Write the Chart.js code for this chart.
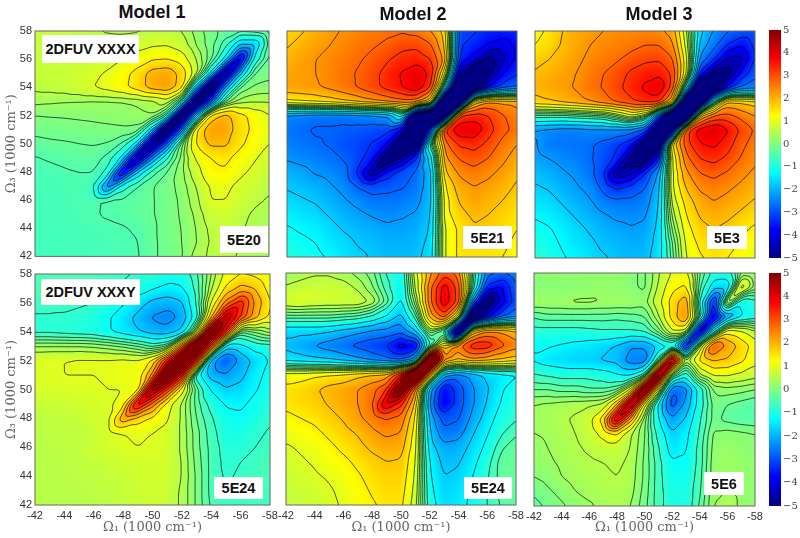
<!DOCTYPE html>
<html lang="en">
<head>
<meta charset="UTF-8" />
<title>2DFUV models</title>
<script src="https://cdn.jsdelivr.net/npm/chart.js"></script>
<style>
    body { margin: 0; background: #fff; width: 800px; height: 538px; overflow: hidden; position: relative; }
    canvas { position: absolute; }
    .title { position: absolute; font: bold 18px "Liberation Sans", sans-serif; color: #111; transform: translateX(-50%); white-space: nowrap; }
    .tag { position: absolute; background: #fff; font: bold 14.5px "Liberation Sans", sans-serif; color: #111; display: flex; align-items: center; justify-content: center; }
</style>
</head>
<body>
<script>
// value grids: rows go from 58 down to 42, columns from -42 to -58
const gridAxis = [42,43,44,45,46,47,48,49,50,51,52,53,54,55,56,57,58];

const model1Xxxx = [
[.7,.7,.68,.62,.58,.52,.5,.52,.6,.62,.55,.2,-.1,-.3,-.35,-.3,-.1],
[.7,.7,.7,.7,.7,.7,.72,.8,.9,.93,.75,.3,-.1,-.6,-1.8,-1.8,-.3],
[.7,.7,.7,.72,.75,.8,.95,1.15,1.35,1.4,1.2,.55,-.1,-1.4,-4.2,-1.1,-.1],
[.7,.7,.72,.78,.88,1,1.25,1.55,2.05,2.15,1.7,.7,-1.3,-5,-2,-.2,-.05],
[.62,.65,.7,.8,.95,1.1,1.3,1.6,2.05,2.2,1.6,-1.6,-5.6,-2.2,-.2,.1,.15],
[.38,.35,.32,.3,.28,.28,.3,.35,.45,.75,-.5,-5.6,-3,-.2,.4,.5,.5],
[.05,.07,.08,.1,.12,.15,.18,.22,.28,-.6,-5.6,-1.8,1.5,2,1.55,1.25,.98],
[-.13,-.1,-.08,-.06,-.04,-.02,0,-.05,-1.6,-5.6,-2.8,1.3,2.2,2.15,1.6,1.3,1.05],
[-.28,-.25,-.23,-.2,-.18,-.22,-.5,-1.5,-5.2,-2.8,-.1,1.4,1.95,1.95,1.5,1.2,.95],
[-.47,-.42,-.38,-.33,-.32,-.55,-1.4,-4.8,-2.4,-.8,.1,1,1.4,1.5,1.25,1,.75],
[-.55,-.52,-.48,-.45,-.45,-.9,-4,-1.8,-.6,-.2,.2,.75,1.3,1.35,1.05,.85,.7],
[-.58,-.55,-.52,-.5,-.7,-2.6,-1,-.45,-.22,-.08,.15,.55,1,1.05,.85,.72,.6],
[-.6,-.58,-.55,-.5,-.47,-.43,-.4,-.33,-.22,-.1,.1,.45,.95,.95,.78,.62,.52],
[-.6,-.58,-.55,-.52,-.47,-.42,-.38,-.32,-.22,-.1,.08,.35,.75,.8,.65,.5,.42],
[-.6,-.6,-.58,-.55,-.52,-.5,-.47,-.42,-.25,-.1,.05,.3,.62,.7,.6,.45,.38],
[-.6,-.6,-.6,-.58,-.55,-.52,-.5,-.46,-.25,-.12,.04,.28,.58,.65,.57,.42,.35],
[-.6,-.6,-.6,-.6,-.58,-.55,-.52,-.48,-.25,-.12,.02,.42,.6,.62,.52,.42,.35]
];

const model2Xxxx = [
[1.6,1.8,2,2.2,2.35,2.45,2.55,2.65,2.7,2.6,2.3,1.6,-3,-3.2,-3.4,-3.5,-3.4],
[1.8,2,2.15,2.3,2.45,2.6,2.7,2.85,3.05,3.1,2.8,1.8,-3.2,-3.4,-3.8,-4,-3.6],
[2,2.15,2.3,2.4,2.55,2.7,2.9,3.15,3.4,3.45,3.2,2.1,-3.4,-4,-5,-4.4,-3.6],
[2.1,2.2,2.3,2.45,2.65,2.8,3.05,3.4,3.7,4,3.5,1,-4.5,-6,-5,-3.8,-3.3],
[2.15,2.2,2.25,2.4,2.6,2.8,3.05,3.35,3.65,4,3.2,-1,-7,-6,-3.8,-3,-2.7],
[1.3,1.4,1.5,1.6,1.8,2,2.2,2.4,2.6,2.5,1.5,-7,-6,1.5,2.3,2.2,2.1],
[-2.4,-2.5,-2.6,-2.6,-2.6,-2.5,-2.4,-2.2,-1,-6,-7,-5,3.2,3.4,3.2,2.8,2.5],
[-2.6,-2.7,-2.8,-2.8,-2.85,-2.9,-3,-3.1,-3.8,-7,-3,3.3,4,4,3.4,2.9,2.6],
[-2.5,-2.6,-2.7,-2.8,-3,-3.1,-3.3,-3.8,-6,-5.5,-.5,2.6,3.3,3.4,3.1,2.6,2.3],
[-2.3,-2.4,-2.5,-2.6,-2.8,-3.1,-3.6,-5.5,-4.6,-3.3,-1.5,2.2,2.8,3,2.75,2.4,2.1],
[-2,-2.1,-2.3,-2.4,-2.6,-3.4,-4.8,-3.6,-3,-2.7,-1.9,1.8,2.4,2.6,2.4,2.2,1.9],
[-1.8,-1.9,-2,-2.2,-2.4,-2.8,-3,-2.9,-2.8,-2.6,-1.9,1.4,2.1,2.3,2.2,2,1.8],
[-1.6,-1.7,-1.8,-2,-2.2,-2.4,-2.6,-2.6,-2.55,-2.4,-1.9,1.2,1.9,2.15,2,1.85,1.65],
[-1.4,-1.5,-1.6,-1.8,-2,-2.15,-2.3,-2.4,-2.3,-2.2,-1.8,1.2,1.7,1.95,1.85,1.7,1.5],
[-1.2,-1.3,-1.4,-1.6,-1.8,-1.95,-2.05,-2.15,-2.15,-2.05,-1.7,1,1.5,1.8,1.75,1.6,1.4],
[-1.1,-1.15,-1.25,-1.45,-1.6,-1.8,-1.9,-2,-2,-1.95,-1.6,1,1.5,1.65,1.6,1.5,1.3],
[-.95,-1.05,-1.15,-1.3,-1.5,-1.65,-1.8,-1.9,-1.9,-1.85,-1.55,1,1.5,1.5,1.5,1.4,1.2]
];

const model3Xxxx = [
[1.2,1.5,1.85,2.1,2.2,2.3,2.35,2.4,2.45,2.4,2.1,.6,-1.6,-2.3,-2.7,-2.9,-2.9],
[1.4,1.6,1.9,2.1,2.3,2.4,2.5,2.6,2.75,2.75,2.4,.8,-1.9,-2.6,-3.3,-3.7,-3.1],
[1.7,1.85,2,2.2,2.4,2.55,2.7,2.95,3.1,3.15,2.8,1.1,-2.4,-3.2,-4.4,-4.4,-3.2],
[1.9,2,2.15,2.3,2.55,2.75,3,3.3,3.5,3.55,3.1,1,-3.4,-5,-5,-3.6,-2.9],
[2,2.1,2.2,2.35,2.6,2.8,3.1,3.4,3.75,4.05,3,-1,-6.5,-6,-3.6,-2.7,-2.5],
[1.7,1.8,1.95,2.1,2.3,2.55,2.85,3.1,3.3,3.3,1.8,-6.5,-6,-.5,1.9,1.8,1.6],
[-.6,-.6,-.6,-.5,-.4,-.3,.2,.8,.2,-3,-7,-6.5,1.8,2.8,2.9,2.6,2.3],
[-2.3,-2.4,-2.5,-2.5,-2.4,-2.4,-2.4,-2.5,-3,-6,-4.5,3,3.9,4.15,3.7,3.1,2.7],
[-2.2,-2.55,-2.6,-2.65,-2.7,-2.9,-3.2,-3.6,-5.5,-5,1.5,3,3.6,3.75,3.4,2.9,2.5],
[-2.1,-2.25,-2.4,-2.5,-2.7,-3,-3.4,-5,-5.5,-3.5,1,2.6,3.2,3.35,3.1,2.7,2.4],
[-1.9,-2,-2.2,-2.35,-2.6,-3.2,-4.8,-4.4,-3.3,-2.2,.9,2.2,2.75,2.9,2.7,2.45,2.2],
[-1.7,-1.8,-2,-2.2,-2.4,-2.9,-3.4,-3.1,-2.8,-1.9,.9,1.9,2.4,2.55,2.4,2.2,2],
[-1.5,-1.6,-1.8,-2,-2.2,-2.5,-2.65,-2.65,-2.5,-1.8,.7,1.6,2.1,2.3,2.15,2,1.8],
[-1.3,-1.4,-1.6,-1.8,-2,-2.2,-2.35,-2.4,-2.3,-1.7,.4,1.4,1.9,2.05,1.95,1.75,1.55],
[-1.1,-1.2,-1.4,-1.6,-1.8,-2,-2.1,-2.2,-2.15,-1.6,.1,1.2,1.7,1.85,1.7,1.5,1.3],
[-1,-1.1,-1.3,-1.5,-1.65,-1.85,-1.95,-2.05,-2,-1.55,-.2,1.05,1.5,1.65,1.55,1.35,1.15],
[-.8,-1,-1.2,-1.35,-1.55,-1.7,-1.85,-1.95,-1.9,-1.5,-.3,.95,1.35,1.5,1.4,1.2,1]
];

const model1Xxxy = [
[-.5,-.5,-.5,-.5,-.55,-.6,-.7,-.8,-.85,-.95,-1,-.5,.3,1.1,1.4,1.3,1],
[-.5,-.5,-.55,-.55,-.6,-.7,-.8,-1,-1.2,-1.4,-1.3,-.6,.5,1.5,2,1.8,1.2],
[-.6,-.6,-.65,-.7,-.75,-.9,-1.2,-1.5,-1.9,-2,-1.8,-.7,1,2.5,3.5,2.2,1.4],
[-.8,-.8,-.8,-.85,-.95,-1.2,-1.5,-1.9,-2.3,-2.5,-2.1,-.9,1.8,4.6,3.2,2,1.3],
[-.85,-.85,-.9,-.95,-1,-1.2,-1.45,-1.7,-1.95,-2,-1.6,.5,5.6,3.5,-.2,.1,.4],
[.3,.3,.3,.3,.25,.15,0,-.2,-.5,-.2,2.5,6.2,3,-1.5,-1.4,-1,-.9],
[.9,.95,.95,1,1,1,1.05,1,1.5,3.5,6.2,3.5,-2,-2.9,-2.1,-1.6,-1.2],
[.9,.9,.95,.95,.95,1,1.1,1.1,2.4,6,3.8,-1,-2,-2.2,-1.9,-1.4,-1.1],
[.85,.85,.9,.9,.9,.95,.95,1.2,5,3.2,1.2,-.3,-1.3,-1.7,-1.6,-1.3,-1],
[.72,.72,.75,.8,.85,.85,1.2,4,2.6,1.2,.5,-.3,-.9,-1.3,-1.35,-1.1,-.9],
[.6,.62,.65,.7,.8,.85,2.2,1.7,1.3,1,.5,-.2,-.7,-1.1,-1.15,-1,-.8],
[.58,.6,.62,.65,.72,.85,.95,1,.95,.85,.5,-.1,-.6,-1,-1,-.85,-.7],
[.55,.58,.6,.65,.75,.85,.9,.95,.9,.85,.5,-.1,-.55,-.9,-.9,-.75,-.6],
[.55,.55,.6,.62,.68,.72,.78,.82,.85,.8,.55,-.05,-.55,-.85,-.75,-.65,-.55],
[.55,.55,.58,.6,.62,.68,.72,.78,.82,.8,.55,0,-.55,-.8,-.7,-.6,-.5],
[.55,.55,.55,.58,.6,.62,.68,.75,.8,.75,.5,0,-.55,-.75,-.65,-.55,-.6],
[.55,.55,.55,.55,.58,.6,.65,.7,.78,.72,.5,0,-.5,-.7,-.65,-.6,-.7]
];

const model2Xxxy = [
[.3,.4,.5,.5,.4,.2,-.1,-.8,-1.2,.8,2.2,3,2.5,-.3,-2.6,-2.8,-2.4],
[.6,.7,.75,.75,.7,.5,.1,-.6,-1.3,.6,2.6,3.9,3,-.5,-3.4,-3.8,-2.8],
[.85,.95,.85,.8,.8,.8,.5,-.3,-1.4,.2,2.6,4,3,-2.5,-5.5,-4,-3],
[-.3,-.3,-.3,-.3,-.4,-.5,-.8,-1.3,-1.9,-.6,2,3,1,-6,-4,-2.9,-2.4],
[-1.6,-1.6,-1.6,-1.7,-1.9,-2.1,-2.3,-2.4,-2.6,-1.8,.3,-.5,-6,1.5,2.3,2.2,1.9],
[-1.9,-2.1,-2.3,-2.5,-2.7,-2.9,-3.1,-3.3,-4,-3.8,-.8,1.5,2.6,3.5,3.5,2.9,2.5],
[-1.4,-1.5,-1.6,-1.7,-1.9,-2.1,-2.4,-2.6,-2.8,-2,7,2.5,1.8,2.2,2,1.8,1.6],
[1.2,1.2,1.3,1.4,1.5,1.7,1.9,2,3.5,7,2.2,-2,-2.4,-2,-1.6,-1.4,-1.3],
[1.5,1.6,1.8,2,2.1,2.3,2.6,3.2,5.5,2.5,-2,-3.7,-3,-2.3,-1.8,-1.3,-1],
[1.5,1.6,1.7,1.9,2.1,2.3,2.7,4.2,3.4,1.8,-2.3,-3.9,-3,-2.3,-1.7,-1.2,-.9],
[1.3,1.4,1.5,1.7,1.9,2.2,2.5,2.8,2.6,1.4,-1.9,-3,-2.8,-2.1,-1.5,-1,-.8],
[1.1,1.2,1.3,1.5,1.7,1.9,2.2,2.4,2.3,1.2,-1.7,-2.6,-2.5,-1.8,-1.3,-.8,-.5],
[.9,1,1.1,1.3,1.5,1.7,1.95,2.1,2.05,1.1,-1.5,-2.1,-2,-1.6,-1.1,-.5,-.3],
[.8,.9,1,1.15,1.3,1.5,1.7,1.85,1.8,1,-1.3,-1.9,-1.8,-1.4,-.9,-.3,-.2],
[.75,.8,.9,1,1.15,1.35,1.55,1.7,1.7,.9,-1.2,-1.75,-1.65,-1.25,-.8,-.3,-.25],
[.7,.75,.8,.9,1.05,1.25,1.45,1.6,1.6,.8,-1.1,-1.65,-1.55,-1.15,-.75,-.35,-.3],
[.65,.7,.75,.85,1,1.15,1.35,1.5,1.5,.7,-1,-1.55,-1.45,-1.1,-.75,-.4,-.35]
];

const model3Xxxy = [
[.1,.15,.2,.2,.2,.2,.2,.1,0,.5,1,1.1,-.2,-.9,-1,.1,0],
[.1,.1,.1,.1,.15,.2,.2,.1,0,.6,1.3,1.5,-.4,-1.6,-1.6,1.3,.2],
[.3,.3,.3,.35,.35,.3,.3,.3,.2,.8,1.6,2.2,-.8,-3.5,.6,-1.1,-.9],
[-.4,-.3,-.3,-.3,-.3,-.3,-.35,-.3,-.2,.5,1.6,2.4,-.4,-4.2,-2.2,-1.3,-1],
[-.9,-.9,-.9,-.9,-.85,-.8,-.8,-.8,-.7,-.1,.9,.8,-4.5,-1,1.2,1,.6],
[-1.2,-1.2,-1.3,-1.4,-1.5,-1.6,-1.8,-2.2,-2.2,-1.6,-1.2,-4,.5,3,2.2,1.7,1.2],
[-1.3,-1.5,-1.6,-1.7,-1.7,-1.8,-1.9,-2.5,-2.5,-.5,5,.4,1.5,1.9,1.8,1.5,1.1],
[-.7,-.8,-.9,-.9,-.9,-1,-1.2,-1.3,-.6,5.5,0,-1,.5,1,1,.85,.7],
[-.2,-.2,-.3,-.3,-.4,-.4,-.2,1,5.5,1,-2.7,-2.4,-1,.1,.2,.15,.05],
[.3,.35,.4,.45,.5,.6,1.8,5,1.2,-1.3,-3,-2.1,-1,-.1,-.2,-.3,-.4],
[.35,.4,.5,.6,.8,1.6,4.4,2.2,.2,-1.2,-2.2,-1.7,-.8,-.1,-.3,-.4,-.45],
[.3,.35,.45,.55,.7,1.1,1.5,.6,.1,-.9,-1.7,-1.4,-.7,.1,.15,.1,.05],
[.2,.3,.4,.5,.6,.7,.7,.55,.05,-.7,-1.5,-1.3,-.6,.15,.25,.15,.1],
[.2,.25,.35,.45,.5,.55,.6,.5,0,-.6,-1.2,-1.2,-.6,.2,.3,.2,.15],
[.05,.15,.3,.4,.45,.5,.55,.45,0,-.6,-1.1,-1.1,-.55,.2,.3,.2,.15],
[-.15,0,.15,.3,.4,.45,.5,.4,-.05,-.6,-1,-1,-.5,.25,.3,.2,.15],
[-.3,-.15,0,.15,.25,.4,.45,.3,-.1,-.6,-1,-1,-.4,.3,.55,.2,.15]
];

const contourLevels = [-4.75,-4.25,-3.75,-3.25,-2.75,-2.25,-1.75,-1.25,-.75,-.45,-.2,.05,.3,.55,.95,1.4,1.85,2.3,2.75,3.2,3.65,4.1,4.55];
const axisTicks = [-42,-44,-46,-48,-50,-52,-54,-56,-58];
const colorbarTicks = [5,4,3,2,1,0,-1,-2,-3,-4,-5];
const axisLabelX = "Ω₁ (1000 cm⁻¹)";
const axisLabelY = "Ω₃ (1000 cm⁻¹)";
const modelTitles = ["Model 1", "Model 2", "Model 3"];

function jet(v) {
    const t = Math.min(1, Math.max(0, (v + 5) / 10));
    const ramp = c => Math.min(1, Math.max(0, 1.5 - Math.abs(4 * t - c)));
    return [ramp(3) * 255, ramp(2) * 255, ramp(1) * 255];
}

// finer table for painting only, the values themselves stay in the grids above
// cells are split along the ridge direction so the diagonal stays in one piece
const FINE = 8;
function fineTable(grid) {
    const n = grid.length, m = (n - 1) * FINE + 1;
    let table = Array.from({ length: m }, () => new Float32Array(m));
    for (let b = 0; b < m; b++) for (let a = 0; a < m; a++) {
        const i = Math.min(n - 2, Math.floor(a / FINE)), j = Math.min(n - 2, Math.floor(b / FINE));
        const fa = a / FINE - i, fb = b / FINE - j;
        const q00 = grid[j][i], q10 = grid[j][i + 1], q01 = grid[j + 1][i], q11 = grid[j + 1][i + 1];
        table[b][a] = fa + fb <= 1
            ? q00 + fa * (q10 - q00) + fb * (q01 - q00)
            : q11 + (1 - fa) * (q01 - q11) + (1 - fb) * (q10 - q11);
    }
    const kernel = [1, 2, 3, 2, 1];
    for (let pass = 0; pass < 2; pass++) {
        const next = Array.from({ length: m }, () => new Float32Array(m));
        for (let b = 0; b < m; b++) for (let a = 0; a < m; a++) {
            let s = 0;
            kernel.forEach((w, k) => {
                const p = pass === 0 ? table[b][Math.max(0, Math.min(m - 1, a + k - 2))] : table[Math.max(0, Math.min(m - 1, b + k - 2))][a];
                s += w * p;
            });
            next[b][a] = s / 9;
        }
        table = next;
    }
    return table;
}

function rebuildGrid(points) {
    const n = gridAxis.length;
    return Array.from({ length: n }, (_, j) => Array.from({ length: n }, (_, i) => points[j * n + i].v));
}

const fieldPlugin = {
    id: "field",
    beforeDatasetsDraw(chart) {
        const { ctx, chartArea: area, scales } = chart;
        const table = fineTable(rebuildGrid(chart.data.datasets[0].data));
        const m = table.length - 1;
        const x0 = gridAxis[0], top = gridAxis[gridAxis.length - 1];
        const w = Math.round(area.width), h = Math.round(area.height);
        const off = document.createElement("canvas");
        off.width = w; off.height = h;
        const octx = off.getContext("2d");
        const img = octx.createImageData(w, h);
        for (let py = 0; py < h; py++) {
            const b = Math.max(0, Math.min(m - 1e-4, (top - scales.y.getValueForPixel(area.top + py + .5)) * FINE));
            const b0 = Math.floor(b), fb = b - b0;
            for (let px = 0; px < w; px++) {
                const a = Math.max(0, Math.min(m - 1e-4, (-scales.x.getValueForPixel(area.left + px + .5) - x0) * FINE));
                const a0 = Math.floor(a), fa = a - a0;
                const v = (table[b0][a0] * (1 - fa) + table[b0][a0 + 1] * fa) * (1 - fb) + (table[b0 + 1][a0] * (1 - fa) + table[b0 + 1][a0 + 1] * fa) * fb;
                const c = jet(v), k = (py * w + px) * 4;
                img.data[k] = c[0]; img.data[k + 1] = c[1]; img.data[k + 2] = c[2]; img.data[k + 3] = 255;
            }
        }
        octx.putImageData(img, 0, 0);
        ctx.save();
        ctx.drawImage(off, area.left, area.top, area.width, area.height);
        ctx.beginPath();
        ctx.rect(area.left, area.top, area.width, area.height);
        ctx.clip();
        ctx.strokeStyle = "rgba(0,0,0,.85)";
        ctx.lineWidth = 0.8;
        const X = a => scales.x.getPixelForValue(-(x0 + a / FINE));
        const Y = b => scales.y.getPixelForValue(top - b / FINE);
        contourLevels.forEach(level => {
            ctx.beginPath();
            for (let b = 0; b < m; b++) for (let a = 0; a < m; a++) {
                const q = [table[b][a], table[b][a + 1], table[b + 1][a + 1], table[b + 1][a]];
                const cut = [];
                const corners = [[a, b], [a + 1, b], [a + 1, b + 1], [a, b + 1]];
                for (let e = 0; e < 4; e++) {
                    const p = q[e], r = q[(e + 1) % 4];
                    if ((p < level) !== (r < level)) {
                        const t = (level - p) / (r - p), s = corners[e], d = corners[(e + 1) % 4];
                        cut.push([X(s[0] + (d[0] - s[0]) * t), Y(s[1] + (d[1] - s[1]) * t)]);
                    }
                }
                for (let c = 0; c + 1 < cut.length; c += 2) {
                    ctx.moveTo(cut[c][0], cut[c][1]);
                    ctx.lineTo(cut[c + 1][0], cut[c + 1][1]);
                }
            }
            ctx.stroke();
        });
        ctx.restore();
        ctx.strokeStyle = "#666";
        ctx.lineWidth = 1;
        ctx.strokeRect(area.left, area.top, area.width, area.height);
    }
};

function addCanvas(left, top, width, height) {
    const c = document.createElement("canvas");
    c.width = width; c.height = height;
    c.style.left = left + "px"; c.style.top = top + "px";
    document.body.appendChild(c);
    return c;
}

const tickFont = { family: "Liberation Sans", size: 11 };
const labelFont = { family: "DejaVu Serif", size: 13 };

function drawPanel(grid, box, showX, showY) {
    const marginL = showY ? box.l : 15, marginB = showX ? 538 - box.b : 6, top = box.t - 8;
    const canvas = addCanvas(box.l - marginL, top, marginL + box.r - box.l + 18, box.b + marginB - top);
    const n = gridAxis.length;
    const points = [];
    for (let j = 0; j < n; j++) for (let i = 0; i < n; i++) {
        points.push({ x: -gridAxis[i], y: gridAxis[n - 1 - j], v: grid[j][i] });
    }
    new Chart(canvas, {
        type: "scatter",
        data: { datasets: [{ data: points, pointRadius: 0, pointHoverRadius: 0 }] },
        options: {
            responsive: false,
            animation: false,
            events: [],
            layout: { padding: { top: 8, right: 18, left: 0, bottom: 0 } },
            plugins: { legend: { display: false }, tooltip: { enabled: false } },
            scales: {
                x: {
                    type: "linear", reverse: true, min: -58, max: -42,
                    grid: { display: false, drawTicks: showX, tickLength: 3 },
                    border: { display: false },
                    afterBuildTicks: s => { s.ticks = axisTicks.map(v => ({ value: v })); },
                    afterFit: s => { s.height = marginB; },
                    ticks: { display: showX, autoSkip: false, maxRotation: 0, color: "#333", font: tickFont, padding: 1, callback: v => String(v) },
                    title: { display: showX, text: axisLabelX, color: "#666", font: labelFont, padding: { top: 0, bottom: 3 } }
                },
                y: {
                    type: "linear", min: 42, max: 58,
                    grid: { display: false, drawTicks: showY, tickLength: 3 },
                    border: { display: false },
                    afterFit: s => { s.width = marginL; },
                    ticks: { display: showY, stepSize: 2, color: "#333", font: tickFont, padding: 0 },
                    title: { display: showY, text: axisLabelY, color: "#666", font: labelFont, padding: { top: 4, bottom: 1 } }
                }
            }
        },
        plugins: [fieldPlugin]
    });
}

function drawColorbar(box) {
    const canvas = addCanvas(box.l, box.t - 8, 800 - box.l, box.b - box.t + 16);
    new Chart(canvas, {
        type: "bar",
        data: {
            labels: [""],
            datasets: [{
                data: [[-5, 5]],
                barPercentage: 1,
                categoryPercentage: 1,
                backgroundColor: ctx => {
                    const { chart } = ctx;
                    if (!chart.chartArea) return "#888";
                    const g = chart.ctx.createLinearGradient(0, chart.scales.y.getPixelForValue(-5), 0, chart.scales.y.getPixelForValue(5));
                    for (let s = 0; s <= 32; s++) {
                        const c = jet(-5 + s * 10 / 32);
                        g.addColorStop(s / 32, `rgb(${c[0]},${c[1]},${c[2]})`);
                    }
                    return g;
                }
            }]
        },
        options: {
            responsive: false,
            animation: false,
            events: [],
            layout: { padding: { top: 8, bottom: 8, left: 0, right: 0 } },
            plugins: { legend: { display: false }, tooltip: { enabled: false } },
            scales: {
                x: { display: false },
                y: {
                    position: "right", min: -5, max: 5,
                    grid: { display: false, drawTicks: false },
                    border: { display: false },
                    afterBuildTicks: s => { s.ticks = colorbarTicks.map(v => ({ value: v })); },
                    afterFit: s => { s.width = 800 - box.r; },
                    ticks: { color: "#444", font: { family: "DejaVu Serif", size: 10 }, padding: 2, callback: v => String(v).replace("-", "−") }
                }
            }
        }
    });
}

function addTitle(text, x, y) {
    const d = document.createElement("div");
    d.className = "title";
    d.textContent = text;
    d.style.left = x + "px"; d.style.top = y + "px";
    document.body.appendChild(d);
}

function addTag(text, l, t, r, b) {
    const d = document.createElement("div");
    d.className = "tag";
    d.textContent = text;
    d.style.cssText = `left:${l}px;top:${t}px;width:${r - l}px;height:${b - t}px`;
    document.body.appendChild(d);
}

drawPanel(model1Xxxx, { l: 35, r: 269, t: 31, b: 257 }, false, true);
drawPanel(model2Xxxx, { l: 287, r: 517, t: 31, b: 257 }, false, false);
drawPanel(model3Xxxx, { l: 535, r: 755, t: 31, b: 258 }, false, false);
drawPanel(model1Xxxy, { l: 35, r: 270, t: 274, b: 505 }, true, true);
drawPanel(model2Xxxy, { l: 286, r: 516, t: 273, b: 505 }, true, false);
drawPanel(model3Xxxy, { l: 534, r: 755, t: 273, b: 506 }, true, false);
drawColorbar({ l: 769, r: 781, t: 30, b: 258 });
drawColorbar({ l: 769, r: 781, t: 273, b: 506 });

addTitle(modelTitles[0], 152, 2);
addTitle(modelTitles[1], 413, 4);
addTitle(modelTitles[2], 659, 4);
addTag("2DFUV XXXX", 42, 35, 139, 63);
addTag("5E20", 220, 226, 268, 253);
addTag("5E21", 463, 226, 512, 249);
addTag("5E3", 707, 226, 747, 249);
addTag("2DFUV XXXY", 41, 279, 140, 305);
addTag("5E24", 214, 477, 263, 499);
addTag("5E24", 464, 477, 512, 499);
addTag("5E6", 704, 472, 744, 495);
</script>
</body>
</html>
